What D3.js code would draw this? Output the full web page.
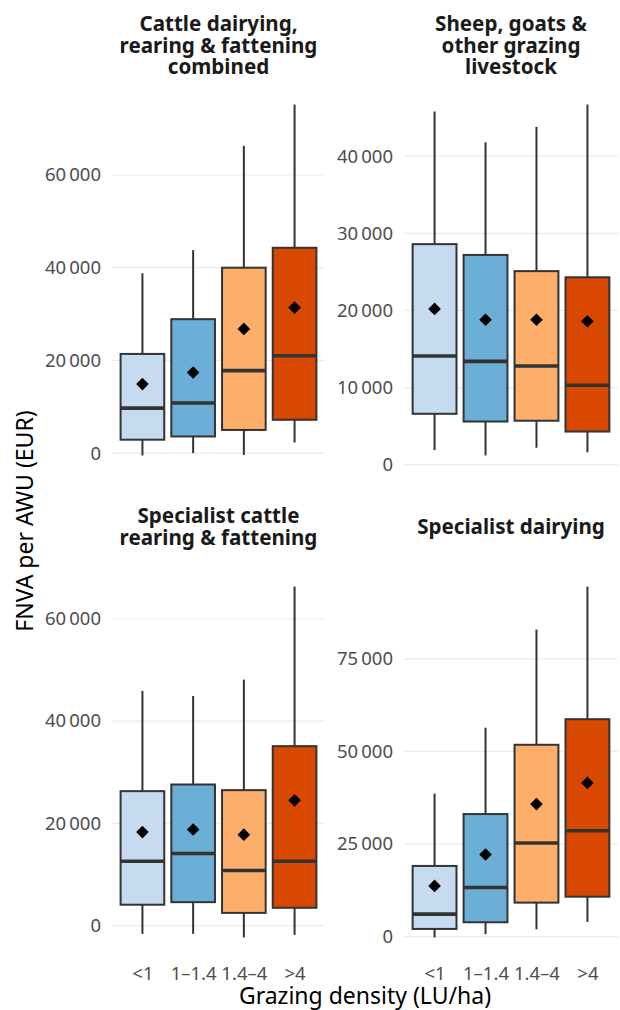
<!DOCTYPE html>
<html>
<head>
<meta charset="utf-8">
<script src="https://cdn.jsdelivr.net/npm/d3@7"></script>
<style>
  html, body { margin: 0; padding: 0; background: #fff; }
  svg { display: block; font-family: "Noto Sans", "Open Sans", sans-serif; }
</style>
</head>
<body>
<svg id="chart" width="620" height="1010"></svg>
<script>
// Grazing density classes (x categories)
const categories = ["<1", "1\u20131.4", "1.4\u20134", ">4"];
const fillColors = ["#c6dbef", "#6baed6", "#fdae6b", "#d94801"];

// Panel titles (one array per line)
const titleCombined = ["Cattle dairying,", "rearing & fattening", "combined"];
const titleSheep = ["Sheep, goats &", "other grazing", "livestock"];
const titleRearing = ["Specialist cattle", "rearing & fattening"];
const titleDairy = ["Specialist dairying"];

// Box statistics, FNVA per AWU (EUR), one value per density class
const combinedLow    = [-500, 0, -400, 2300];
const combinedQ1     = [2900, 3600, 5000, 7200];
const combinedMedian = [9700, 10800, 17800, 21000];
const combinedQ3     = [21400, 28900, 40000, 44300];
const combinedHigh   = [38800, 43800, 66300, 75200];
const combinedMean   = [14900, 17400, 26800, 31400];

const sheepLow    = [1900, 1200, 2200, 1600];
const sheepQ1     = [6600, 5600, 5700, 4300];
const sheepMedian = [14100, 13400, 12800, 10300];
const sheepQ3     = [28600, 27200, 25100, 24300];
const sheepHigh   = [45800, 41800, 43800, 46700];
const sheepMean   = [20200, 18800, 18800, 18600];

const rearingLow    = [-1600, -1600, -2300, -1800];
const rearingQ1     = [4100, 4600, 2500, 3500];
const rearingMedian = [12600, 14100, 10800, 12600];
const rearingQ3     = [26300, 27600, 26500, 35100];
const rearingHigh   = [45900, 44900, 48100, 66300];
const rearingMean   = [18300, 18800, 17800, 24500];

const dairyLow    = [-200, 700, 2000, 4000];
const dairyQ1     = [2100, 3900, 9200, 10800];
const dairyMedian = [6100, 13300, 25300, 28600];
const dairyQ3     = [19100, 33100, 51800, 58700];
const dairyHigh   = [38600, 56400, 82900, 94500];
const dairyMean   = [13700, 22200, 35800, 41500];

// Y tick values per panel
const ticksCombined = [0, 20000, 40000, 60000];
const ticksSheep    = [0, 10000, 20000, 30000, 40000];
const ticksRearing  = [0, 20000, 40000, 60000];
const ticksDairy    = [0, 25000, 50000, 75000];

function boxes(low, q1, med, q3, high, mean) {
  return categories.map((c, i) => ({
    cat: c, low: low[i], q1: q1[i], med: med[i], q3: q3[i], high: high[i], mean: mean[i], fill: fillColors[i]
  }));
}

const panels = [
  { title: titleCombined, ticks: ticksCombined, data: boxes(combinedLow, combinedQ1, combinedMedian, combinedQ3, combinedHigh, combinedMean),
    x0: 112, x1: 325, y0: 87, y1: 473, titleBase: 31, xAxis: false },
  { title: titleSheep, ticks: ticksSheep, data: boxes(sheepLow, sheepQ1, sheepMedian, sheepQ3, sheepHigh, sheepMean),
    x0: 404, x1: 618, y0: 87, y1: 473, titleBase: 31, xAxis: false },
  { title: titleRearing, ticks: ticksRearing, data: boxes(rearingLow, rearingQ1, rearingMedian, rearingQ3, rearingHigh, rearingMean),
    x0: 112, x1: 325, y0: 569, y1: 955, titleBase: 523, xAxis: true },
  { title: titleDairy, ticks: ticksDairy, data: boxes(dairyLow, dairyQ1, dairyMedian, dairyQ3, dairyHigh, dairyMean),
    x0: 404, x1: 618, y0: 569, y1: 955, titleBase: 533.5, xAxis: true }
];

const svg = d3.select("#chart");
const fmt = v => d3.format(",")(v).replace(/,/g, "\u2009");
const lineH = 21.7;
const ink = "#333333";

panels.forEach(p => {
  const g = svg.append("g");

  // continuous y scale with 5% padding on the data range
  const lo = d3.min(p.data, d => d.low), hi = d3.max(p.data, d => d.high);
  const pad = (hi - lo) * 0.05;
  const y = d3.scaleLinear().domain([lo - pad, hi + pad]).range([p.y1, p.y0]);

  // discrete x scale with 0.6 unit padding on each side
  const x = d3.scalePoint().domain(categories).range([p.x0, p.x1]).padding(0.6);
  const bw = x.step() * 0.9;

  // horizontal grid lines
  g.append("g").selectAll("line").data(p.ticks).join("line")
    .attr("x1", p.x0).attr("x2", p.x1)
    .attr("y1", d => y(d)).attr("y2", d => y(d))
    .attr("stroke", "#ebebeb").attr("stroke-width", 1.2);

  // y axis labels
  const yAxis = d3.axisLeft(y).tickValues(p.ticks).tickFormat(fmt).tickSize(0).tickPadding(11);
  const ya = g.append("g").attr("transform", `translate(${p.x0},0)`).call(yAxis);
  ya.select(".domain").remove();
  ya.selectAll("text").attr("fill", "#4d4d4d").attr("font-size", 18.5)
    .attr("font-family", "Noto Sans, Open Sans, sans-serif");

  // x axis labels
  if (p.xAxis) {
    const xAxis = d3.axisBottom(x).tickSize(0).tickPadding(12);
    const xa = g.append("g").attr("transform", `translate(0,${p.y1})`).call(xAxis);
    xa.select(".domain").remove();
    xa.selectAll("text").attr("fill", "#4d4d4d").attr("font-size", 18.5)
      .attr("font-family", "Noto Sans, Open Sans, sans-serif");
  }

  const b = g.append("g").selectAll("g").data(p.data).join("g");

  // whiskers
  b.append("line")
    .attr("x1", d => x(d.cat)).attr("x2", d => x(d.cat))
    .attr("y1", d => y(d.high)).attr("y2", d => y(d.q3))
    .attr("stroke", ink).attr("stroke-width", 2);
  b.append("line")
    .attr("x1", d => x(d.cat)).attr("x2", d => x(d.cat))
    .attr("y1", d => y(d.q1)).attr("y2", d => y(d.low))
    .attr("stroke", ink).attr("stroke-width", 2);

  // boxes
  b.append("rect")
    .attr("x", d => x(d.cat) - bw / 2 + 1).attr("width", bw - 2)
    .attr("y", d => y(d.q3)).attr("height", d => y(d.q1) - y(d.q3))
    .attr("fill", d => d.fill).attr("stroke", ink).attr("stroke-width", 2);

  // medians
  b.append("line")
    .attr("x1", d => x(d.cat) - bw / 2 + 1).attr("x2", d => x(d.cat) + bw / 2 - 1)
    .attr("y1", d => y(d.med)).attr("y2", d => y(d.med))
    .attr("stroke", ink).attr("stroke-width", 3.6);

  // means
  b.append("path")
    .attr("d", d3.symbol(d3.symbolSquare, 80)())
    .attr("transform", d => `translate(${x(d.cat)},${y(d.mean)}) rotate(45)`)
    .attr("fill", "#000");

  // panel title
  const t = g.append("text").attr("text-anchor", "middle")
    .attr("font-size", 20.6).attr("font-weight", "bold").attr("fill", "#1a1a1a");
  p.title.forEach((line, i) => {
    t.append("tspan").attr("x", (p.x0 + p.x1) / 2).attr("y", p.titleBase + i * lineH).text(line);
  });
});

// axis titles
svg.append("text").attr("x", 365).attr("y", 1004).attr("text-anchor", "middle")
  .attr("font-size", 23).attr("fill", "#000").text("Grazing density (LU/ha)");
svg.append("text").attr("transform", "translate(33,521) rotate(-90)").attr("text-anchor", "middle")
  .attr("font-size", 23).attr("fill", "#000").text("FNVA per AWU (EUR)");
</script>
</body>
</html>
